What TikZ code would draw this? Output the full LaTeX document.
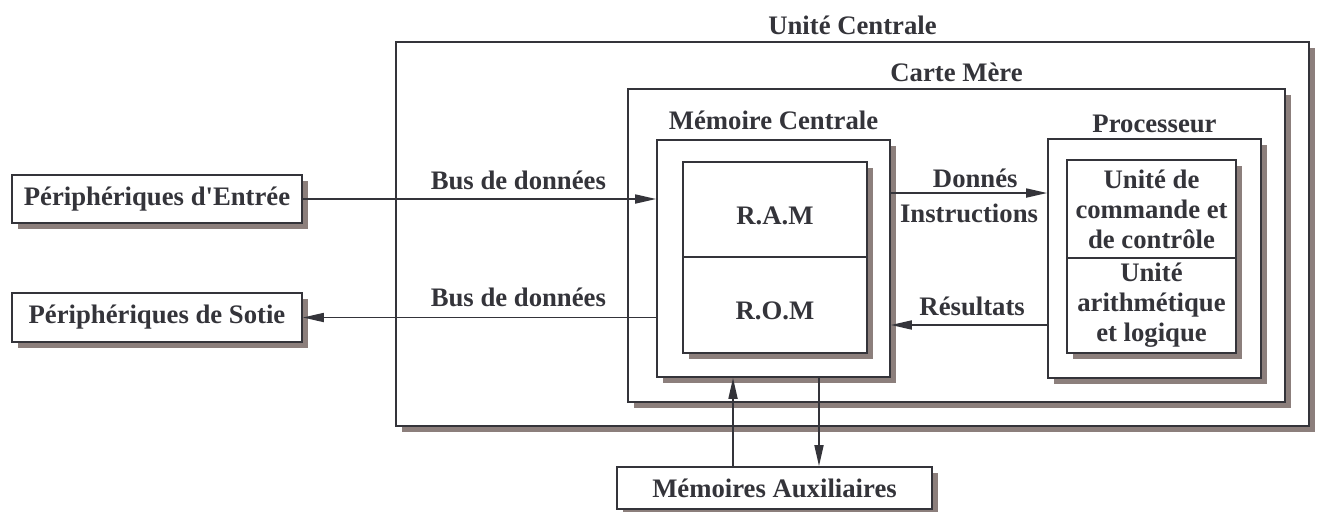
\documentclass[tikz,border=0pt]{standalone}
\usepackage{fontspec}
\setmainfont{Liberation Serif}[Ligatures=TeXOff]
\usetikzlibrary{arrows.meta,shadows}
\definecolor{trazo}{RGB}{52,52,58}
\definecolor{sombra}{RGB}{140,127,124}
\tikzset{
  caja/.style={draw=trazo, line width=1pt, fill=white, inner sep=0pt,
    drop shadow={shadow xshift=0.12cm, shadow yshift=-0.12cm, fill=sombra, opacity=1}},
  texto/.style={text=trazo, font=\fontsize{15.2}{17}\selectfont\bfseries, inner sep=1pt},
  flecha/.style={draw=trazo, line width=1pt, -{Triangle[length=0.42cm,width=0.18cm]}},
}
\begin{document}
\begin{tikzpicture}[x=0.02cm, y=-0.02cm]
    \useasboundingbox (0,0) rectangle (1317,511);

    % Dibuja las cajas anidadas
    \node[caja, minimum width=18.26cm, minimum height=7.68cm] (uc) at (852.5,234) {};
    \node[caja, minimum width=13.14cm, minimum height=6.26cm] (cm) at (956.5,245.5) {};
    \node[caja, minimum width=4.66cm, minimum height=4.74cm] (mc) at (773.5,258.5) {};
    \node[caja, texto, minimum width=3.68cm, minimum height=1.9cm, text height=0.6cm] (ram) at (775,209.5) {R.A.M};
    \node[caja, texto, minimum width=3.68cm, minimum height=1.92cm, text height=0.6cm] (rom) at (775,305) {R.O.M};
    \node[caja, minimum width=4.26cm, minimum height=4.78cm] (proc) at (1154.5,258.5) {};
    \node[caja, texto, align=center, minimum width=3.38cm, minimum height=1.96cm] (ucc) at (1151.5,209)
        {Unité de\\commande et\\de contrôle};
    \node[caja, texto, align=center, minimum width=3.38cm, minimum height=1.9cm] (ual) at (1151.5,305.5)
        {Unité\\arithmétique\\et logique};

    % Titulos de las cajas
    \node[texto, anchor=base] (uclbl) at ([yshift=0.14cm]uc.north) {Unité Centrale};
    \node[texto, anchor=base] (cmlbl) at ([yshift=0.14cm]cm.north) {Carte Mère};
    \node[texto, anchor=base] (mclbl) at ([yshift=0.2cm]mc.north) {Mémoire Centrale};
    \node[texto, anchor=base] (proclbl) at ([yshift=0.12cm]proc.north) {Processeur};

    % Periféricos
    \node[caja, texto, minimum width=5.8cm, minimum height=0.96cm] (pe) at (157,199) {Périphériques d'Entrée};
    \node[caja, texto, minimum width=5.8cm, minimum height=0.98cm] (ps) at (157,317.5) {Périphériques de Sotie};
    \node[caja, texto, minimum width=6.3cm, minimum height=0.84cm] (aux) at (774.5,488) {Mémoires Auxiliaires};

    % Dibuja los buses
    \draw[flecha] (pe.east) -- node[texto, pos=0.61, above=0.14cm] {Bus de données} (pe.east -| mc.west);
    \draw[flecha] (mc.west |- ps.east) -- node[texto, pos=0.39, above=0.17cm] {Bus de données} (ps.east);
    \draw[flecha] ([yshift=1.31cm]mc.east) -- node[texto, pos=0.54, above=0.06cm] {Donnés}
        node[texto, pos=0.5, below=0.17cm] {Instructions} ([yshift=1.31cm]proc.west);
    \draw[flecha] ([yshift=-1.33cm]proc.west) -- node[texto, pos=0.48, above=0.14cm] {Résultats} ([yshift=-1.33cm]mc.east);
    \draw[flecha] ([xshift=-0.83cm]aux.north) -- ([xshift=-0.83cm]aux.north |- mc.south);
    \draw[flecha] ([xshift=0.91cm]mc.south) -- ([xshift=0.91cm]mc.south |- aux.north);
\end{tikzpicture}
\end{document}
